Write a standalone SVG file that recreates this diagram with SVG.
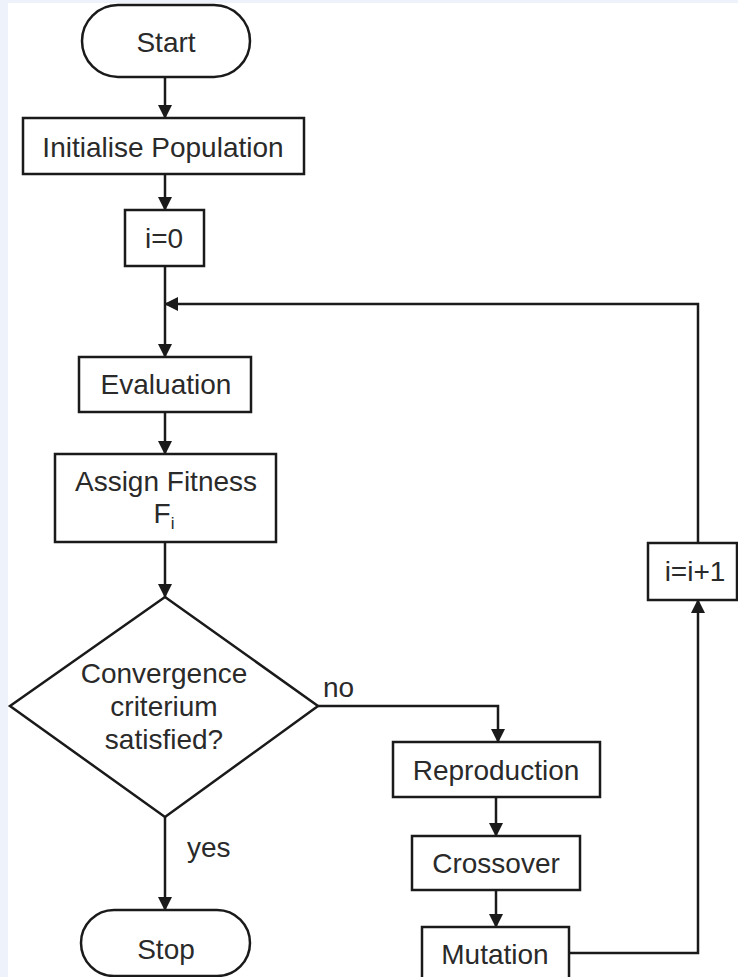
<svg xmlns="http://www.w3.org/2000/svg" width="738" height="977" viewBox="0 0 738 977">
<defs>
<style>
.n{fill:#fff;stroke:#1a1a1a;stroke-width:2.5}
.c{fill:none;stroke:#1a1a1a;stroke-width:2.5}
text{font-family:"Liberation Sans",Arial,sans-serif;font-size:28px;fill:#2a2a2a;text-anchor:middle}
.l{text-anchor:start}
</style>
<marker id="ah" markerWidth="14" markerHeight="14" viewBox="0 0 14 14" refX="13" refY="7" orient="auto" markerUnits="userSpaceOnUse">
<path d="M0,0 L14,7 L0,14 Z" fill="#1a1a1a"/>
</marker>
</defs>
<rect x="0" y="0" width="738" height="977" fill="#eef2fa"/>
<rect x="8" y="3" width="730" height="974" fill="#ffffff"/>
<g id="connectors">
<path class="c" d="M165,77 V118" marker-end="url(#ah)"/>
<path class="c" d="M165,174 V210" marker-end="url(#ah)"/>
<path class="c" d="M165,266 V357" marker-end="url(#ah)"/>
<path class="c" d="M165,412 V454" marker-end="url(#ah)"/>
<path class="c" d="M165,542 V597" marker-end="url(#ah)"/>
<path class="c" d="M165,817 V910" marker-end="url(#ah)"/>
<path class="c" d="M318,706 H498 V742" marker-end="url(#ah)"/>
<path class="c" d="M496,797 V836" marker-end="url(#ah)"/>
<path class="c" d="M496,890 V927" marker-end="url(#ah)"/>
<path class="c" d="M569,953 H698 V600" marker-end="url(#ah)"/>
<path class="c" d="M698,543 V304 H165" marker-end="url(#ah)"/>
<text class="l" x="187" y="857">yes</text>
<text class="l" x="323" y="697">no</text>
</g>
<g id="start">
<rect class="n" x="82" y="5" width="168" height="72" rx="36" ry="36"/>
<text x="166" y="52">Start</text>
</g>
<g id="init">
<rect class="n" x="23" y="118" width="281" height="56"/>
<text x="163" y="157">Initialise Population</text>
</g>
<g id="i0">
<rect class="n" x="125" y="210" width="79" height="56"/>
<text x="164" y="248">i=0</text>
</g>
<g id="evaluation">
<rect class="n" x="79" y="357" width="172" height="55"/>
<text x="166" y="394">Evaluation</text>
</g>
<g id="assign">
<rect class="n" x="55" y="454" width="221" height="88"/>
<text x="166" y="491">Assign Fitness</text>
<text x="164" y="523">F<tspan font-size="17" dy="6">i</tspan></text>
</g>
<g id="decision">
<polygon class="n" points="165,597 318,706 165,817 10,706"/>
<text x="164" y="683">Convergence</text>
<text x="164" y="716">criterium</text>
<text x="164" y="749">satisfied?</text>
</g>
<g id="stop">
<rect class="n" x="81" y="910" width="169" height="66" rx="33" ry="33"/>
<text x="166" y="959">Stop</text>
</g>
<g id="reproduction">
<rect class="n" x="393" y="742" width="207" height="55"/>
<text x="496" y="780">Reproduction</text>
</g>
<g id="crossover">
<rect class="n" x="412" y="836" width="168" height="54"/>
<text x="496" y="873">Crossover</text>
</g>
<g id="mutation">
<rect class="n" x="422" y="927" width="147" height="60"/>
<text x="495" y="964">Mutation</text>
</g>
<g id="inc">
<rect class="n" x="648" y="543" width="89" height="57"/>
<text x="695" y="581">i=i+1</text>
</g>
</svg>
